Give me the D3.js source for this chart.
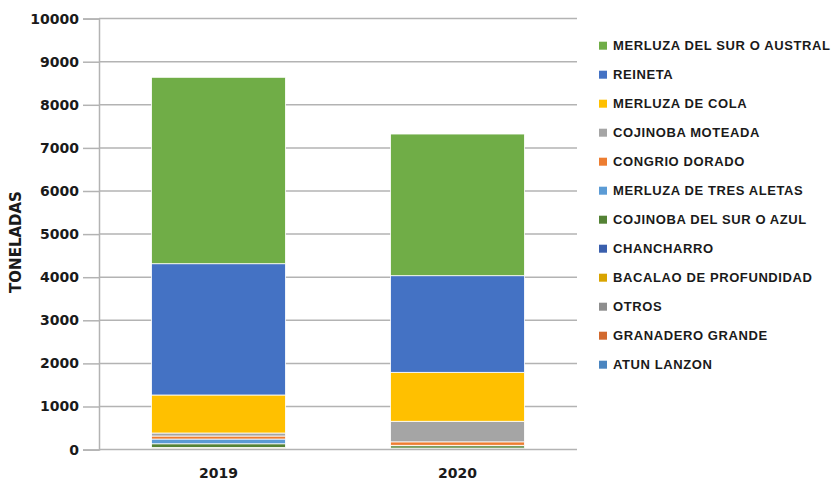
<!DOCTYPE html>
<html>
<head>
<meta charset="utf-8">
<script src="https://cdn.jsdelivr.net/npm/d3@7"></script>
<style>
body { margin: 0; background: #fff; }
svg { display: block; }
</style>
</head>
<body>
<svg id="svg" width="835" height="482"></svg>
<script>
// data (toneladas)
var years = ["2019", "2020"];

// bottom of the stack first
var species = [
    "ATUN LANZON",
    "GRANADERO GRANDE",
    "OTROS",
    "BACALAO DE PROFUNDIDAD",
    "CHANCHARRO",
    "COJINOBA DEL SUR O AZUL",
    "MERLUZA DE TRES ALETAS",
    "CONGRIO DORADO",
    "COJINOBA MOTEADA",
    "MERLUZA DE COLA",
    "REINETA",
    "MERLUZA DEL SUR O AUSTRAL"
];

var colors = [
    "#4a85c0", "#d2692e", "#8e8e8e", "#d9a400", "#3a5fad", "#548235",
    "#5b9bd5", "#ed7d31", "#a5a5a5", "#ffc000", "#4472c4", "#70ad47"
];

var values2019 = [5, 10, 15, 10, 10, 85, 110, 70, 70, 882, 3046, 4325];
var values2020 = [5, 10, 10, 5, 5, 55, 10, 80, 477, 1136, 2242, 3287];

var yTicks = [0, 1000, 2000, 3000, 4000, 5000, 6000, 7000, 8000, 9000, 10000];

var table = years.map(function(y, i) {
    var row = {year: y};
    var vals = i == 0 ? values2019 : values2020;
    species.forEach(function(s, j) { row[s] = vals[j]; });
    return row;
});

var svg = d3.select("#svg");

var plotLeft = 99, plotRight = 577, plotTop = 18.6, plotBottom = 449.6;

var xScale = d3.scaleBand()
    .domain(years)
    .range([plotLeft, plotRight])
    .paddingInner(0.44)
    .paddingOuter(0.22);

var yScale = d3.scaleLinear()
    .domain([0, 10000])
    .range([plotBottom, plotTop]);

// gridlines
svg.append("g")
    .selectAll("line")
    .data(yTicks.slice(1))
    .enter()
    .append("line")
    .attr("x1", plotLeft)
    .attr("x2", plotRight)
    .attr("y1", function(d) { return yScale(d); })
    .attr("y2", function(d) { return yScale(d); })
    .attr("stroke", "#b3b3b3")
    .attr("stroke-width", 1.5);

var stack = d3.stack().keys(species);
var layers = stack(table);

svg.append("g")
    .selectAll("g")
    .data(layers)
    .enter()
    .append("g")
    .attr("fill", function(d, i) { return colors[i]; })
    .selectAll("rect")
    .data(function(d) { return d; })
    .enter()
    .append("rect")
    .attr("x", function(d) { return xScale(d.data.year); })
    .attr("width", xScale.bandwidth())
    .attr("y", function(d) { return yScale(d[1]); })
    .attr("height", function(d) { return yScale(d[0]) - yScale(d[1]); })
    .attr("stroke", "#fff")
    .attr("stroke-width", 0.8);

// y axis
var yAxis = svg.append("g")
    .attr("transform", "translate(" + plotLeft + ",0)")
    .call(d3.axisLeft(yScale).tickValues(yTicks).tickSize(16).tickPadding(4).tickFormat(d3.format("d")));
yAxis.selectAll("line").attr("stroke", "#b3b3b3").attr("stroke-width", 1.5);
yAxis.select(".domain").attr("stroke", "#b3b3b3").attr("stroke-width", 1.5);
yAxis.selectAll("text")
    .style("font-family", "DejaVu Sans")
    .style("font-weight", "bold")
    .style("font-size", "14px")
    .attr("fill", "#1a1a1a");

// x axis
var xAxis = svg.append("g")
    .attr("transform", "translate(0," + plotBottom + ")")
    .call(d3.axisBottom(xScale).tickSize(0).tickPadding(18));
xAxis.select(".domain").attr("stroke", "#b3b3b3").attr("stroke-width", 1.5)
    .attr("d", "M" + plotLeft + ",0H" + plotRight);
xAxis.selectAll("text")
    .style("font-family", "DejaVu Sans")
    .style("font-weight", "bold")
    .style("font-size", "14px")
    .attr("fill", "#1a1a1a");

svg.append("text")
    .attr("transform", "translate(21,242) rotate(-90)")
    .style("text-anchor", "middle")
    .style("font-family", "DejaVu Sans")
    .style("font-weight", "bold")
    .style("font-size", "15px")
    .attr("fill", "#1a1a1a")
    .text("TONELADAS");

// legend, top of the stack first
var legendItems = species.slice().reverse();
var legend = svg.append("g")
    .selectAll("g")
    .data(legendItems)
    .enter()
    .append("g")
    .attr("transform", function(d, i) { return "translate(599," + (45.7 + i * 29) + ")"; });

legend.append("rect")
    .attr("x", 0)
    .attr("y", -4)
    .attr("width", 8)
    .attr("height", 8)
    .attr("fill", function(d) { return colors[species.indexOf(d)]; });

legend.append("text")
    .attr("x", 14)
    .attr("y", 0)
    .attr("dy", "0.35em")
    .style("font-family", "Liberation Sans")
    .style("font-weight", "bold")
    .style("font-size", "13px")
    .style("letter-spacing", "0.6px")
    .attr("fill", "#1a1a1a")
    .text(function(d) { return d; });
</script>
</body>
</html>
